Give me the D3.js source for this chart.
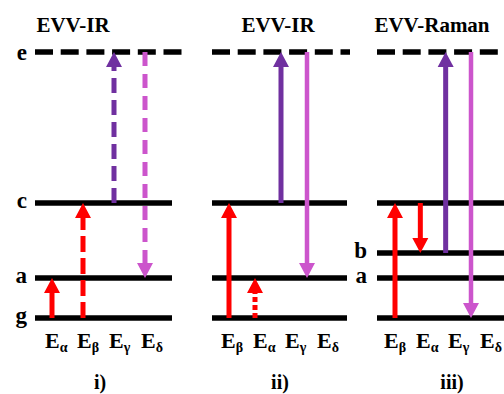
<!DOCTYPE html>
<html>
<head>
<meta charset="utf-8">
<script src="https://cdn.jsdelivr.net/npm/d3@7"></script>
<style>
  body { margin: 0; background: #fff; }
</style>
</head>
<body>
<div id="chart-area"></div>
<script>
// energy levels (arbitrary units, g = ground)
const levelNames = ['g', 'a', 'b', 'c', 'e']
const levelEnergies = [0, 1, 1.625, 2.875, 6.65]

// panels
const panelTitles = ['EVV-IR', 'EVV-IR', 'EVV-Raman']
const panelNames = ['i)', 'ii)', 'iii)']
const panelLevels = [
    ['g', 'a', 'c', 'e'],
    ['g', 'a', 'c', 'e'],
    ['g', 'a', 'b', 'c', 'e']
]
// which level letters are written next to the lines
const panelLevelLabels = [
    ['g', 'a', 'c', 'e'],
    [],
    ['a', 'b']
]

// transitions, in drawing order inside each panel
const transNames = [
    ['α', 'β', 'γ', 'δ'],
    ['β', 'α', 'γ', 'δ'],
    ['β', 'α', 'γ', 'δ']
]
const transFrom = [
    ['g', 'g', 'c', 'e'],
    ['g', 'g', 'c', 'e'],
    ['g', 'c', 'b', 'e']
]
const transTo = [
    ['a', 'c', 'e', 'a'],
    ['c', 'a', 'e', 'a'],
    ['c', 'b', 'e', 'g']
]
const transLine = [
    ['solid', 'dashed', 'dashed', 'dashed'],
    ['solid', 'dotted', 'solid', 'solid'],
    ['solid', 'solid', 'solid', 'solid']
]

// layout
const width = 504
const height = 394
const serif = "'Liberation Serif'"

const panelLayout = [
    { x0: 35, x1: 172, e1: 183, arrows: [52, 145], labels: [45, 141], title: 73, name: 100, levelLabelX: 27 },
    { x0: 212, x1: 347, e1: 350, arrows: [229, 307], labels: [221, 317], title: 278, name: 280, levelLabelX: 200 },
    { x0: 377, x1: 510, e1: 510, arrows: [395, 471], labels: [384, 480], title: 432, name: 452, levelLabelX: 367 }
]

const colorOf = { 'α': '#ff0000', 'β': '#ff0000', 'γ': '#7030a0', 'δ': '#cc55cc' }
const widthOf = { 'α': 5, 'β': 5, 'γ': 5, 'δ': 4.5 }
const dashOf = {
    solid: null,
    dashed: { 'α': '16,6', 'β': '16,6', 'γ': '15,7', 'δ': '14,8' },
    dotted: { 'α': '5,3', 'β': '5,3', 'γ': '5,3', 'δ': '5,3' }
}

const energy = name => levelEnergies[levelNames.indexOf(name)]

const svg = d3.select('#chart-area')
              .append('svg')
              .attr('width', width)
              .attr('height', height)

const y = d3.scaleLinear()
            .domain([0, 1])
            .range([318, 278])

const headLen = 15
const headHalf = 8

function addText(sel, size) {
    return sel.append('text')
              .style('font-family', serif)
              .style('font-weight', 'bold')
              .style('font-size', size + 'px')
}

panelTitles.forEach((title, p) => {
    const L = panelLayout[p]
    const g = svg.append('g').attr('class', 'panel-' + p)

    const xArrow = d3.scaleLinear().domain([0, 3]).range(L.arrows)
    const xLabel = d3.scaleLinear().domain([0, 3]).range(L.labels)

    // LEVEL LINES
    panelLevels[p].forEach(lv => {
        const isE = lv === 'e'
        g.append('line')
         .attr('x1', L.x0)
         .attr('x2', isE ? L.e1 : L.x1)
         .attr('y1', y(energy(lv)))
         .attr('y2', y(energy(lv)))
         .attr('stroke', '#000')
         .attr('stroke-width', 5.5)
         .attr('stroke-dasharray', isE ? '18,7.7' : null)
    })

    // LEVEL LETTERS
    panelLevelLabels[p].forEach(lv => {
        addText(g, 23)
         .attr('x', L.levelLabelX)
         .attr('y', y(energy(lv)) + (lv === 'e' ? 8 : 5))
         .attr('text-anchor', 'end')
         .text(lv)
    })

    // ARROWS
    transNames[p].forEach((t, i) => {
        const x = xArrow(i)
        const yFrom = y(energy(transFrom[p][i]))
        const yTo = y(energy(transTo[p][i]))
        const dir = yTo < yFrom ? 1 : -1   // 1 = pointing up
        const base = yTo + dir * headLen
        const dash = dashOf[transLine[p][i]]

        g.append('line')
         .attr('x1', x).attr('x2', x)
         .attr('y1', yFrom).attr('y2', base)
         .attr('stroke', colorOf[t])
         .attr('stroke-width', dash ? 5 : widthOf[t])
         .attr('stroke-dasharray', dash ? dash[t] : null)

        g.append('path')
         .attr('d', 'M' + x + ',' + yTo +
                    'L' + (x - headHalf) + ',' + base +
                    'L' + (x + headHalf) + ',' + base + 'Z')
         .attr('fill', colorOf[t])
    })

    // TRANSITION LABELS
    transNames[p].forEach((t, i) => {
        const label = addText(g, 22)
                       .attr('x', xLabel(i))
                       .attr('y', 348)
        label.append('tspan').text('E')
        label.append('tspan')
             .style('font-size', '14px')
             .attr('dy', 4)
             .text(t)
    })

    // TITLE
    addText(g, 21)
     .attr('x', L.title)
     .attr('y', 32)
     .attr('text-anchor', 'middle')
     .text(title)

    // PANEL NAME
    addText(g, 20)
     .attr('x', L.name)
     .attr('y', 389)
     .attr('text-anchor', 'middle')
     .text(panelNames[p])
})
</script>
</body>
</html>
